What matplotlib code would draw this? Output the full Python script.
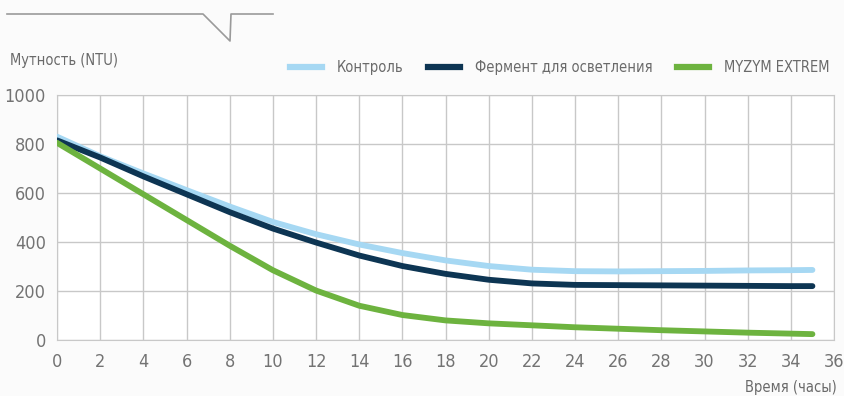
import matplotlib
matplotlib.use("Agg")
import matplotlib.pyplot as plt
from matplotlib.lines import Line2D

# time, hours
hours = [0, 2, 4, 6, 8, 10, 12, 14, 16, 18, 20, 22, 24, 26, 28, 30, 32, 34, 35]

# turbidity (NTU)
control = [830, 750, 680, 612, 545, 482, 432, 390, 355, 325, 302, 287, 281, 280, 281, 282, 284, 285, 286]
enzyme = [815, 745, 668, 595, 522, 455, 398, 345, 302, 270, 246, 231, 225, 224, 223, 222, 221, 220, 220]
myzym = [805, 700, 595, 490, 385, 285, 202, 140, 102, 80, 68, 60, 52, 46, 40, 35, 30, 26, 24]

labels = ["Контроль", "Фермент для осветления", "MYZYM EXTREM"]
colors = ["#a6d8f3", "#0d3553", "#6db33f"]

x_ticks = list(range(0, 37, 2))
y_ticks = [0, 200, 400, 600, 800, 1000]

plt.rcParams["font.family"] = ["DejaVu Sans"]
plt.rcParams["font.stretch"] = "condensed"

fig = plt.figure(figsize=(8.45, 3.96), dpi=100, facecolor="#fbfbfb")
ax = fig.add_axes([0.0675, 0.1414, 0.9195, 0.6186])
ax.set_facecolor("white")

for ys, lab, c in zip([control, enzyme, myzym], labels, colors):
    ax.plot(hours, ys, color=c, lw=4.2, solid_capstyle="round", label=lab, zorder=3)

ax.set_xlim(0, 36)
ax.set_ylim(0, 1000)
ax.set_xticks(x_ticks)
ax.set_yticks(y_ticks)
ax.grid(True, color="#c8c8c8", lw=1.0)
ax.set_axisbelow(True)
for s in ax.spines.values():
    s.set_color("#c8c8c8")
ax.tick_params(length=0, colors="#737373", labelsize=13, pad=9)
ax.tick_params(axis="y", pad=8)

fig.text(0.012, 0.848, "Мутность (NTU)", fontsize=10.5, color="#6a6a6a", va="center")
fig.text(0.99, 0.022, "Время (часы)", fontsize=10.5, color="#6a6a6a", ha="right", va="center")

handles = [Line2D([], [], color=c, lw=4.5) for c in colors]
fig.legend(handles, labels, loc="center right", bbox_to_anchor=(0.997, 0.83), ncol=3,
           frameon=False, fontsize=10.5, labelcolor="#6a6a6a", handlelength=2.2,
           handletextpad=1.0, columnspacing=1.7)

# decorative header line
fig.add_artist(Line2D([7, 203, 230, 231, 273], [382, 382, 355, 382, 382],
                      transform=None, color="#9a9a9a", lw=1.2))

fig.savefig("out.png", dpi=100, facecolor=fig.get_facecolor())
